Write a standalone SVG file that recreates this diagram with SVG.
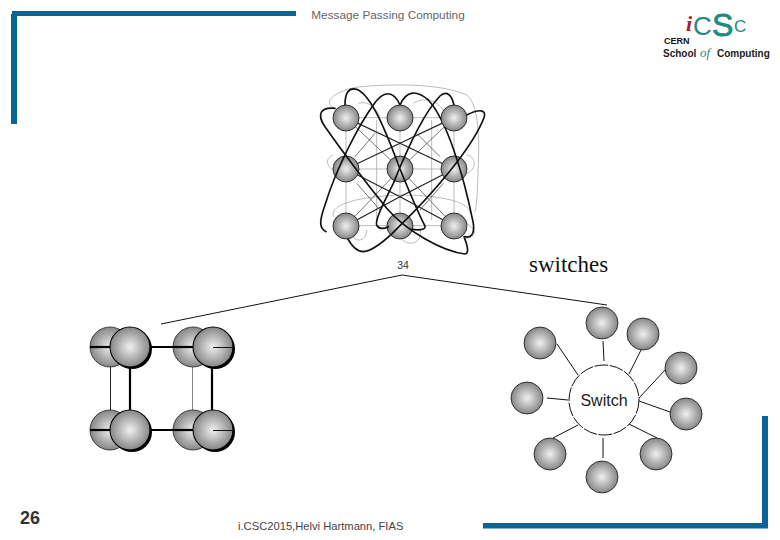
<svg xmlns="http://www.w3.org/2000/svg" width="780" height="540" viewBox="0 0 780 540">
<style>
.bar{fill:#0a6496}
.sans{font-family:"Liberation Sans",Arial,sans-serif}
.s{stroke:#111;stroke-width:.8}
.b{stroke:#000;stroke-width:1.1}
.thick{fill:none;stroke:#111;stroke-width:5;stroke-linecap:round}
.mid{fill:none;stroke:#222;stroke-width:3.6}
.thin{fill:none;stroke:#333;stroke-width:2}
.gray{fill:none;stroke:#999;stroke-width:2}
.l{stroke:#111;stroke-width:1;fill:none}
.ln3{stroke:#000;stroke-width:2.2}
</style>
<defs>
<radialGradient id="ball" cx=".5" cy=".5" r=".5"><stop offset="0" stop-color="#f0f0f0"/><stop offset="1" stop-color="#868686"/></radialGradient>
<clipPath id="over"><circle cx="138" cy="267" r="40"/><circle cx="300" cy="267" r="40"/><circle cx="462" cy="267" r="40"/><circle cx="300" cy="437" r="40"/></clipPath>
<g id="curves">
<path class="thick" d="M105 85C60 80 50 105 75 140C110 190 200 310 260 385C320 455 430 515 495 522C510 520 500 490 492 470"/>
<path class="thick" d="M135 75C135 40 145 22 170 28C215 45 260 160 300 267C330 340 365 420 375 438C378 452 350 450 335 448"/>
<path class="thick" d="M300 75C280 30 250 30 220 75C180 130 110 260 75 375C55 430 60 445 78 455"/>
<path class="thick" d="M300 75C320 30 350 30 385 60C440 120 490 280 520 430C525 465 510 475 495 470"/>
<path class="thick" d="M500 105C540 85 558 90 553 110C520 200 400 340 300 437C250 490 210 515 190 515C165 515 150 490 140 470"/>
<path class="thick" d="M462 75C455 45 440 30 420 48C370 100 320 210 280 310C250 370 225 420 230 435C238 450 255 445 265 440"/>
</g>
</defs>
<rect width="780" height="540" fill="#fff"/>
<g id="frame">
<rect class="bar" x="12" y="11" width="284" height="5"/>
<rect class="bar" x="11" y="14" width="6" height="110"/>
<rect class="bar" x="483" y="523" width="285" height="5.500"/>
<rect class="bar" x="762" y="416" width="6" height="112"/>
</g>
<text class="sans" x="388" y="19" font-size="11.800" fill="#666" text-anchor="middle">Message Passing Computing</text>
<g id="logo">
<text class="sans" fill="#1f8a80"><tspan x="686" y="31" font-family="Liberation Serif,serif" font-style="italic" font-weight="bold" font-size="22" fill="#a5202e">i</tspan><tspan x="693" y="35" font-size="26">C</tspan><tspan x="712" y="36" font-size="32" stroke="#1f8a80" stroke-width=".8">S</tspan><tspan x="734" y="32" font-size="17">C</tspan></text>
<text x="664" y="44" class="sans" font-weight="bold" font-size="9" fill="#111">CERN</text>
<text x="663" y="57" class="sans" font-weight="bold" font-size="10" fill="#222">School</text>
<text x="700" y="57" font-family="Liberation Serif,serif" font-style="italic" font-size="13" fill="#1f8a80">of</text>
<text x="717" y="57" class="sans" font-weight="bold" font-size="10" fill="#222">Computing</text>
</g>
<g id="connectors">
<g transform="translate(300,80) scale(.33333)">
<path class="gray" d="M138 113H462M138 267H462M138 437H462M138 113V437M300 113V437M462 113V437M230 120V420M395 120V420"/>
<path class="gray" d="M105 85C70 70 90 40 165 22C280 10 420 10 500 45C530 65 540 150 535 250C532 330 532 370 525 395"/>
<path class="gray" d="M100 225C70 235 85 265 100 270M500 225C530 230 530 270 500 280M100 410C90 370 180 350 300 345C400 345 510 360 510 400M160 470C170 490 200 480 200 450M300 470C320 505 370 490 360 450M500 430C530 450 530 470 500 475M175 70C210 60 230 90 240 110M340 70C370 50 410 60 430 90"/>
<path class="thin" d="M138 437L300 267L462 113M138 113L300 267L462 437M165 230L225 160M350 160L420 230M170 310L240 390M360 390L430 310"/>
<path class="mid" d="M138 267L300 190L462 113M138 113L300 190L462 267M138 267L300 350L462 437M138 437L300 350L462 267"/>
<use href="#curves"/>
</g>
</g>
<g id="mesh-nodes">
<g id="m1"><circle class="s" cx="346" cy="118" r="13" fill="url(#ball)"/></g>
<g id="m2"><circle class="s" cx="400" cy="118" r="13" fill="url(#ball)"/></g>
<g id="m3"><circle class="s" cx="454" cy="118" r="13" fill="url(#ball)"/></g>
<g id="m4"><circle class="s" cx="346" cy="169" r="13" fill="url(#ball)"/></g>
<g id="m5"><circle class="s" cx="400" cy="169" r="13" fill="url(#ball)"/></g>
<g id="m6"><circle class="s" cx="454" cy="169" r="13" fill="url(#ball)"/></g>
<g id="m7"><circle class="s" cx="346" cy="226" r="13" fill="url(#ball)"/></g>
<g id="m8"><circle class="s" cx="400" cy="226" r="13" fill="url(#ball)"/></g>
<g id="m9"><circle class="s" cx="454" cy="226" r="13" fill="url(#ball)"/></g>
</g>
<g id="mesh-overlay" transform="translate(300,80) scale(.33333)">
<use href="#curves" clip-path="url(#over)"/>
</g>
<text class="sans" x="403" y="269" font-size="10.500" fill="#333" text-anchor="middle">34</text>
<text x="529" y="272" font-family="Liberation Serif,serif" font-size="23" fill="#111">switches</text>
<path class="l" d="M161 324L402 275L607 305"/>
<g id="cube-links">
<path class="ln3" d="M90 347H120M151 347H193M90 430H120M151 430H193"/>
<path stroke="#222" d="M110.500 367V410"/>
<path stroke="#888" d="M192.500 367V410"/>
<path class="ln3" d="M130 367V410M212 367V410"/>
</g>
<g id="cube-nodes">
<g id="c1"><circle cx="110" cy="347" r="20" fill="url(#ball)" stroke="#222" stroke-width=".8"/><path class="ln3" d="M90 347H112"/><circle cx="132" cy="349" r="20" fill="#000"/><circle cx="130" cy="347" r="20" class="b" fill="url(#ball)"/></g>
<g id="c2"><circle cx="193" cy="347" r="20" fill="url(#ball)" stroke="#222" stroke-width=".8"/><path class="ln3" d="M173 347H195"/><circle cx="215" cy="349" r="20" fill="#000"/><circle cx="213" cy="347" r="20" class="b" fill="url(#ball)"/><path stroke="#111" d="M213 347.500H234"/></g>
<g id="c3"><circle cx="110" cy="430" r="20" fill="url(#ball)" stroke="#222" stroke-width=".8"/><path class="ln3" d="M90 430H112"/><circle cx="132" cy="432" r="20" fill="#000"/><circle cx="130" cy="430" r="20" class="b" fill="url(#ball)"/></g>
<g id="c4"><circle cx="193" cy="430" r="20" fill="url(#ball)" stroke="#222" stroke-width=".8"/><path class="ln3" d="M173 430H195"/><circle cx="215" cy="432" r="20" fill="#000"/><circle cx="213" cy="430" r="20" class="b" fill="url(#ball)"/><path stroke="#111" d="M213 430.500H234"/></g>
</g>
<g id="star-links" stroke="#111" stroke-width="1" fill="none">
<path d="M603 341L604 361M641 350L629 374M666 369L639 398M670 412L639 401M657 438L629 424M603 438L603 458M553 438L578 425M547 398L568 400M557 344L578 375"/>
</g>
<g id="switch"><circle cx="604" cy="400" r="35" fill="#fff" stroke="#111" stroke-width="1" stroke-dasharray="14 1.500"/><text class="sans" x="604" y="406" font-size="16" fill="#222" text-anchor="middle">Switch</text></g>
<g id="star-nodes">
<g id="s1"><circle class="s" cx="602" cy="323" r="16" fill="url(#ball)"/></g>
<g id="s2"><circle class="s" cx="643" cy="334" r="16" fill="url(#ball)"/></g>
<g id="s3"><circle class="s" cx="681" cy="368" r="16" fill="url(#ball)"/></g>
<g id="s4"><circle class="s" cx="686" cy="414" r="16" fill="url(#ball)"/></g>
<g id="s5"><circle class="s" cx="656" cy="454" r="16" fill="url(#ball)"/></g>
<g id="s6"><circle class="s" cx="602" cy="477" r="16" fill="url(#ball)"/></g>
<g id="s7"><circle class="s" cx="550" cy="454" r="16" fill="url(#ball)"/></g>
<g id="s8"><circle class="s" cx="527" cy="398" r="16" fill="url(#ball)"/></g>
<g id="s9"><circle class="s" cx="540" cy="343" r="16" fill="url(#ball)"/></g>
</g>
<text class="sans" x="20" y="524" font-size="18" font-weight="bold" fill="#333">26</text>
<text class="sans" x="238" y="530" font-size="11.200" fill="#444">i.CSC2015,Helvi Hartmann, FIAS</text>
</svg>
